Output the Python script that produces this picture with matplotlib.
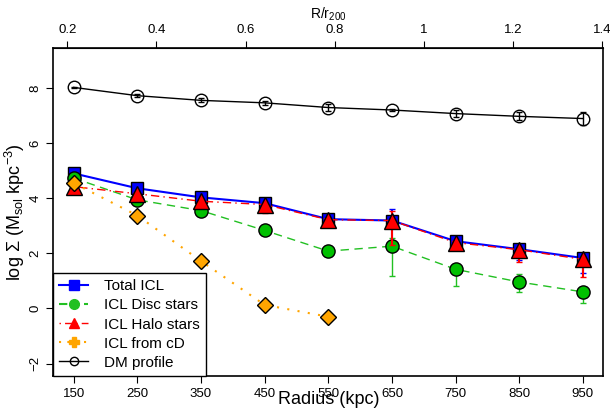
import numpy as np
import matplotlib
matplotlib.use('Agg')
import matplotlib.pyplot as plt

plt.rcParams['font.family'] = ['Liberation Sans', 'DejaVu Sans']
plt.rcParams['mathtext.fontset'] = 'custom'
plt.rcParams['mathtext.rm'] = 'Liberation Sans'
plt.rcParams['mathtext.it'] = 'Liberation Sans'

radius = [150, 250, 350, 450, 550, 650, 750, 850, 950]
r200 = 700.

total = [4.90, 4.36, 4.03, 3.82, 3.24, 3.19, 2.44, 2.15, 1.83]
total_lo = [0.05, 0.05, 0.08, 0.25, 0.05, 0.85, 0.2, 0.4, 0.55]
total_hi = [0.05, 0.05, 0.05, 0.08, 0.05, 0.42, 0.1, 0.1, 0.1]

disc = [4.73, 3.94, 3.55, 2.83, 2.08, 2.26, 1.42, 0.96, 0.60]
disc_lo = [0.05, 0.05, 0.18, 0.05, 0.05, 1.09, 0.61, 0.36, 0.40]
disc_hi = [0.05, 0.05, 0.05, 0.05, 0.05, 0.29, 0.10, 0.30, 0.10]

halo = [4.42, 4.16, 3.89, 3.77, 3.22, 3.19, 2.39, 2.13, 1.78]
halo_lo = [0.05, 0.05, 0.2, 0.3, 0.05, 0.88, 0.25, 0.44, 0.64]
halo_hi = [0.05, 0.05, 0.05, 0.1, 0.05, 0.36, 0.1, 0.1, 0.1]

cd_radius = [150, 250, 350, 450, 550]
cd = [4.55, 3.37, 1.72, 0.13, -0.30]

dm = [8.02, 7.72, 7.55, 7.46, 7.29, 7.20, 7.07, 6.97, 6.89]
dm_err = [0.02, 0.05, 0.07, 0.08, 0.12, 0.05, 0.13, 0.15, 0.25]

fig = plt.figure(figsize=(6.1, 4.09), dpi=100)
ax = fig.add_axes([0.0874, 0.0814, 0.9016, 0.8006])

# DM profile
ax.errorbar(radius, dm, yerr=dm_err, color='black', lw=1, marker='o', ms=9,
            mfc='none', mec='black', capsize=2.5, elinewidth=1, zorder=2)
# Total ICL
ax.errorbar(radius, total, yerr=[total_lo, total_hi], color='blue', lw=1.5, marker='s',
            ms=9, mfc='blue', mec='black', ecolor='blue', capsize=2.5, zorder=3)
# disc stars
ax.errorbar(radius, disc, yerr=[disc_lo, disc_hi], color='#22c022', lw=1, ls=(0, (6, 4)),
            marker='o', ms=9.5, mfc='#00c000', mec='black', ecolor='#22c022',
            capsize=2.5, zorder=4)
# halo stars
ax.errorbar(radius, halo, yerr=[halo_lo, halo_hi], color='red', lw=1, ls=(0, (1, 3, 6, 3)),
            marker='^', ms=11, mfc='red', mec='black', ecolor='red', elinewidth=1.5,
            capsize=2.5, zorder=5)
# from cD
ax.plot(cd_radius, cd, color='orange', lw=1.5, ls=(0, (1, 4)), marker='D', ms=8,
        mfc='orange', mec='black', zorder=6)

ax.set_xlim(118, 982)
ax.set_ylim(-2.44, 9.44)
ax.set_xticks(radius)
ax.set_yticks([-2, 0, 2, 4, 6, 8])
ax.tick_params(direction='out', length=5, labelsize=9.5)
for lab in ax.get_yticklabels():
    lab.set_rotation(90)
    lab.set_va('center')
ax.set_xlabel('Radius (kpc)', fontsize=13, labelpad=-6)
ax.set_ylabel(r'log $\Sigma$ (M$_{\rm sol}$ kpc$^{-3}$)', fontsize=13, labelpad=2)

top = ax.secondary_xaxis('top', functions=(lambda r: r / r200, lambda q: q * r200))
top.set_xticks([0.2, 0.4, 0.6, 0.8, 1.0, 1.2, 1.4])
top.set_xticklabels(['0.2', '0.4', '0.6', '0.8', '1', '1.2', '1.4'])
top.tick_params(direction='out', length=5, labelsize=9.5)
top.set_xlabel(r'R/r$_{200}$', fontsize=10, labelpad=4)

handles = [
    plt.Line2D([], [], color='blue', lw=1.5, marker='s', ms=7, mfc='blue', mec='blue'),
    plt.Line2D([], [], color='#22c022', lw=1.5, ls=(0, (4, 2)), marker='o', ms=7, mfc='#22c022', mec='#22c022'),
    plt.Line2D([], [], color='red', lw=1, ls=(0, (1, 3, 5, 3)), marker='^', ms=7, mfc='red', mec='red'),
    plt.Line2D([], [], color='orange', lw=1.5, ls=(0, (1, 3)), marker='P', ms=7, mfc='orange', mec='orange'),
    plt.Line2D([], [], color='black', lw=1, marker='o', ms=6, mfc='none', mec='black'),
]
labels = ['Total ICL', 'ICL Disc stars', 'ICL Halo stars', 'ICL from cD', 'DM profile']
leg = ax.legend(handles, labels, loc='lower left', fontsize=11, fancybox=False,
                framealpha=1, edgecolor='black', borderaxespad=0, handlelength=1.9,
                labelspacing=0.33, handletextpad=1.0, borderpad=0.4)
leg.get_frame().set_linewidth(1)

for s in ax.spines.values():
    s.set_linewidth(1.2)

plt.savefig('out.png', dpi=100)
